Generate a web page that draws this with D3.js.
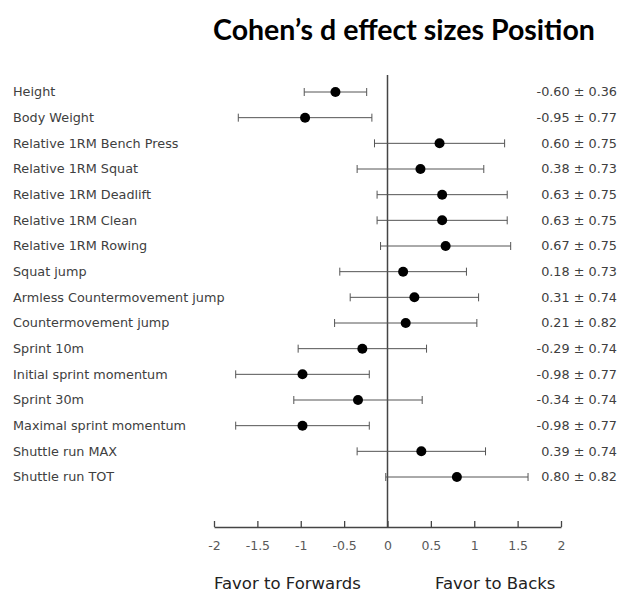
<!DOCTYPE html>
<html>
<head>
<meta charset="utf-8">
<script src="https://cdn.jsdelivr.net/npm/d3@7"></script>
<style>
  body { margin: 0; background: #fff; }
  svg { display: block; }
</style>
</head>
<body>
<svg id="chart" width="621" height="593"></svg>
<script>
const measures = [
    "Height", "Body Weight", "Relative 1RM Bench Press", "Relative 1RM Squat",
    "Relative 1RM Deadlift", "Relative 1RM Clean", "Relative 1RM Rowing", "Squat jump",
    "Armless Countermovement jump", "Countermovement jump", "Sprint 10m",
    "Initial sprint momentum", "Sprint 30m", "Maximal sprint momentum",
    "Shuttle run MAX", "Shuttle run TOT"
]
const effects = [-0.60, -0.95, 0.60, 0.38, 0.63, 0.63, 0.67, 0.18, 0.31, 0.21, -0.29, -0.98, -0.34, -0.98, 0.39, 0.80]
const halfCI = [0.36, 0.77, 0.75, 0.73, 0.75, 0.75, 0.75, 0.73, 0.74, 0.82, 0.74, 0.77, 0.74, 0.77, 0.74, 0.82]
const xTicks = [-2, -1.5, -1, -0.5, 0, 0.5, 1, 1.5, 2]

const rows = measures.map((name, i) => ({ name, d: effects[i], ci: halfCI[i] }))

const svg = d3.select("#chart")
const font = "'DejaVu Sans', Verdana, sans-serif"

const x = d3.scaleLinear().domain([-2, 2]).range([214, 561])
const y = d3.scalePoint().domain(measures).range([92, 477])
const axisY = 527

// title
svg.append("text")
    .attr("x", 404)
    .attr("y", 40)
    .attr("text-anchor", "middle")
    .style("font-family", "Lato, 'Open Sans', sans-serif")
    .style("font-weight", "bold")
    .style("font-size", "28.5px")
    .style("fill", "#000")
    .text("Cohen\u2019s d effect sizes Position")

// zero line
svg.append("line")
    .attr("x1", x(0)).attr("x2", x(0))
    .attr("y1", 75).attr("y2", axisY)
    .style("stroke", "#444")
    .style("stroke-width", 1.5)

// x axis, ticks pointing up
const axis = svg.append("g")
    .attr("transform", `translate(0,${axisY})`)
    .call(d3.axisBottom(x).tickValues(xTicks).tickSizeInner(-6).tickSizeOuter(0).tickPadding(14)
        .tickFormat(d => String(d)))

axis.select(".domain").style("stroke", "#444").style("stroke-width", 1.5)
axis.selectAll(".tick line").style("stroke", "#444").style("stroke-width", 1.3)
axis.selectAll(".tick text")
    .style("font-family", font)
    .style("font-size", "12.5px")
    .style("fill", "#595959")

// row labels
svg.append("g").selectAll("text")
    .data(rows)
    .join("text")
    .attr("x", 13)
    .attr("y", d => y(d.name))
    .attr("dy", "0.35em")
    .style("font-family", font)
    .style("font-size", "12.8px")
    .style("fill", "#404040")
    .text(d => d.name)

// value labels
svg.append("g").selectAll("text")
    .data(rows)
    .join("text")
    .attr("x", 617)
    .attr("y", d => y(d.name))
    .attr("dy", "0.35em")
    .attr("text-anchor", "end")
    .style("font-family", font)
    .style("font-size", "12.8px")
    .style("fill", "#404040")
    .text(d => `${d.d.toFixed(2)} \u00b1 ${d.ci.toFixed(2)}`)

// error bars
const bars = svg.append("g").selectAll("g")
    .data(rows)
    .join("g")
    .attr("transform", d => `translate(0,${y(d.name)})`)

bars.append("line")
    .attr("x1", d => x(d.d - d.ci))
    .attr("x2", d => x(d.d + d.ci))
    .style("stroke", "#555")
    .style("stroke-width", 1)

bars.selectAll(".cap")
    .data(d => [d.d - d.ci, d.d + d.ci])
    .join("line")
    .attr("class", "cap")
    .attr("x1", v => x(v)).attr("x2", v => x(v))
    .attr("y1", -4).attr("y2", 4)
    .style("stroke", "#555")
    .style("stroke-width", 1)

bars.append("circle")
    .attr("cx", d => x(d.d))
    .attr("r", 5)
    .style("fill", "#000")

// footer labels
svg.append("text")
    .attr("x", 214)
    .attr("y", 589)
    .style("font-family", font)
    .style("font-size", "16.5px")
    .style("fill", "#222")
    .text("Favor to Forwards")

svg.append("text")
    .attr("x", 435)
    .attr("y", 589)
    .style("font-family", font)
    .style("font-size", "16.5px")
    .style("fill", "#222")
    .text("Favor to Backs")
</script>
</body>
</html>
